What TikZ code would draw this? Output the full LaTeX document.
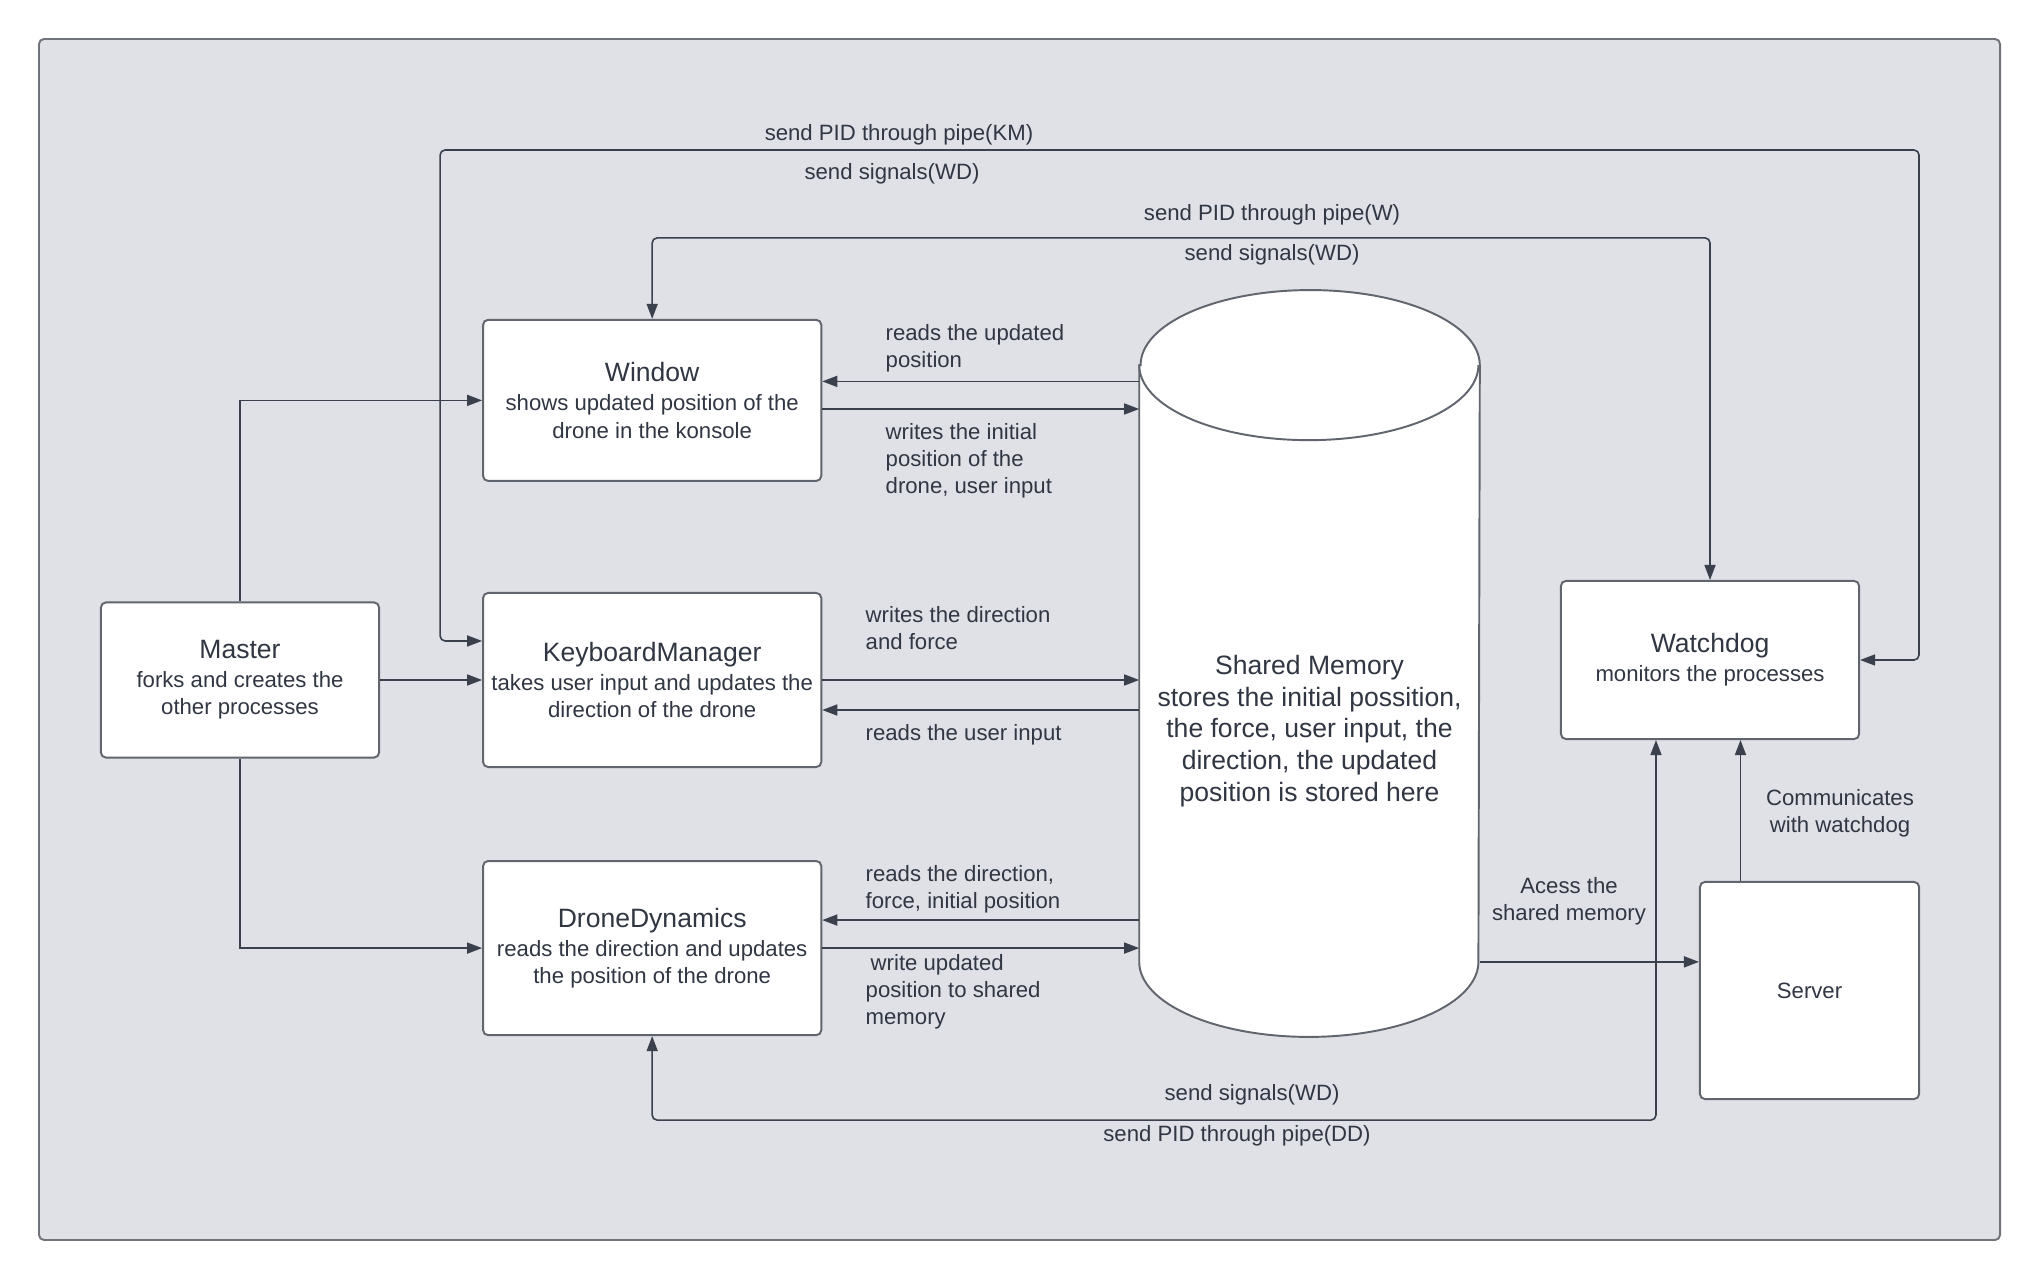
\documentclass[tikz,border=0pt]{standalone}
\usepackage{fontspec}
\setmainfont{Liberation Sans}
\usetikzlibrary{arrows.meta,positioning}

\definecolor{ink}{RGB}{48,54,66}
\definecolor{wire}{RGB}{58,65,77}
\definecolor{boxline}{RGB}{96,101,110}
\definecolor{panel}{RGB}{223,225,230}
\definecolor{panelline}{RGB}{112,116,122}

\newcommand{\bigfont}{\fontsize{7.55}{9}\selectfont}
\newcommand{\smallfont}{\fontsize{6.3}{7.7}\selectfont}
\newcommand{\ttl}[1]{{\bigfont #1}\\[0.6pt]}

\begin{document}
\begin{tikzpicture}[
            x=0.01cm, y=-0.01cm,
            proc/.style={draw=boxline, line width=0.55pt, fill=white, rounded corners=0.05cm, minimum width=3.38cm, inner sep=0pt},
            every node/.style={align=center, text=ink, font=\smallfont},
            note/.style={align=left, anchor=west, inner sep=0pt},
            link/.style={-{Triangle[length=0.15cm, width=0.11cm]}, draw=wire, line width=0.45pt},
            twoway/.style={{Triangle[length=0.15cm, width=0.11cm]}-{Triangle[length=0.15cm, width=0.11cm]}, draw=wire, line width=0.45pt, rounded corners=0.05cm},
            node distance = 1cm
  ]

  \useasboundingbox (0,0) rectangle (2040,1280);
  \draw[panelline, fill=panel, line width=0.55pt, rounded corners=0.05cm] (39,39) rectangle (2000,1240);

  % processes
  \node[proc, minimum width=2.78cm, minimum height=1.55cm] (master) at (240,680) {\ttl{Master}forks and creates the\\other processes};
  \node[proc, minimum height=1.74cm] (km) [right=1.02cm of master] {\ttl{KeyboardManager}takes user input and updates the\\direction of the drone};
  \node[proc, minimum height=1.61cm] (window) [above=1.1cm of km] {\ttl{Window}shows updated position of the\\drone in the konsole};
  \node[proc, minimum height=1.74cm] (dd) [below=0.92cm of km] {\ttl{DroneDynamics}reads the direction and updates\\the position of the drone};
  \node[proc, minimum width=2.98cm, minimum height=1.58cm] (watchdog) at (1710,660) {\ttl{Watchdog}monitors the processes};
  \node[proc, minimum width=2.19cm, minimum height=2.17cm] (server) at (1809.5,990.5) {Server};

  % shared memory
  \node[minimum width=3.39cm, minimum height=7.45cm, inner sep=0pt] (shm) at (1309.5,663.5) {};
  \draw[draw=boxline, line width=0.55pt, fill=white] ([yshift=-0.75cm]shm.north west) -- ([yshift=0.75cm]shm.south west)
      arc[start angle=180, end angle=360, x radius=1.695cm, y radius=0.75cm] -- ([yshift=-0.75cm]shm.north east)
      arc[start angle=0, end angle=180, x radius=1.695cm, y radius=0.75cm] -- cycle;
  \draw[draw=boxline, line width=0.55pt] ([yshift=-0.75cm]shm.north west) arc[start angle=180, end angle=360, x radius=1.695cm, y radius=0.75cm];
  \node[font=\bigfont] (shmtext) at ([yshift=-0.675cm]shm.center) {Shared Memory\\stores the initial possition,\\the force, user input, the\\direction, the updated\\position is stored here};

  % master forks
  \draw[link] (master.north) |- (window.west);
  \draw[link] (master.east) -- (km.west);
  \draw[link] (master.south) |- (dd.west);

  % shared memory access
  \coordinate (wr) at ([yshift=0.19cm]window.east);
  \coordinate (ww) at ([yshift=-0.086cm]window.east);
  \draw[link] (wr -| shm.west) -- (wr);
  \draw[link] (ww) -- (ww -| shm.west);
  \coordinate (kr) at ([yshift=-0.3cm]km.east);
  \draw[link] (km.east) -- (km.east -| shm.west);
  \draw[link] (kr -| shm.west) -- (kr);
  \coordinate (dr) at ([yshift=0.28cm]dd.east);
  \draw[link] (dr -| shm.west) -- (dr);
  \draw[link] (dd.east) -- (dd.east -| shm.west);
  \coordinate (shmbot) at ([yshift=0.75cm]shm.south east);
  \draw[link] (shmbot) -- (shmbot -| server.west);
  \coordinate (sv) at ([xshift=-0.69cm]server.north);
  \draw[link] (sv) -- (sv |- watchdog.south);

  % watchdog pipes
  \coordinate (kmpipe) at (1919,150);
  \draw[twoway] ([yshift=0.39cm]km.west) -- ++(-42,0) |- (kmpipe) |- (watchdog.east);
  \draw[twoway] (window.north) -- ++(0,-81) -| (watchdog.north);
  \draw[twoway] (dd.south) -- ++(0,84) -| ([xshift=-0.54cm]watchdog.south);

  % labels
  \node[note] (l1) at (885,348) {reads the updated\\position};
  \node[note] (l2) at (885,461) {writes the initial\\position of the\\drone, user input};
  \node[note] (l3) at (865,628) {writes the direction\\and force};
  \node[note] (l4) at (865,735) {reads the user input};
  \node[note] (l5) at (865,889) {reads the direction,\\force, initial position};
  \node[note] (l6) at (865,992) {\hspace{0.05cm}write updated\\position to shared\\memory};
  \node (l7) at (1569,901) {Acess the\\shared memory};
  \node (l8) at (1840,813) {Communicates\\with watchdog};
  \node (p1) at (899,135) {send PID through pipe(KM)};
  \node (s1) at (892,174) {send signals(WD)};
  \node (p2) at (1272,215) {send PID through pipe(W)};
  \node (s2) at (1272,255) {send signals(WD)};
  \node (s3) at (1252,1095) {send signals(WD)};
  \node (p3) at (1237,1136) {send PID through pipe(DD)};

\end{tikzpicture}
\end{document}
